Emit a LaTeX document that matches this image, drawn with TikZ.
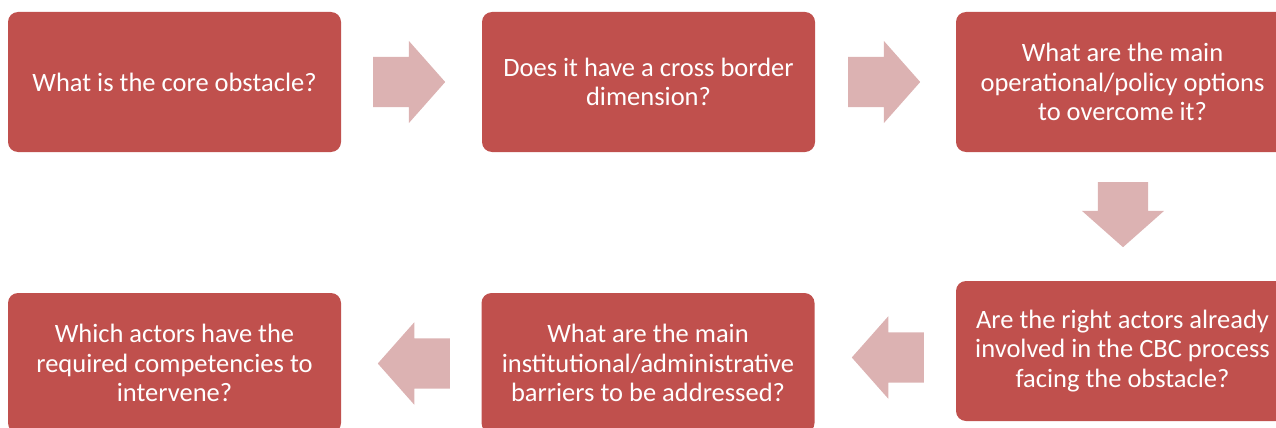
\documentclass[tikz,border=0pt]{standalone}
\usepackage{fontspec}
\setmainfont{Carlito}
\usetikzlibrary{shapes.arrows, positioning}
\definecolor{boxred}{RGB}{192,80,77}
\definecolor{arrowpink}{RGB}{220,178,178}
\tikzset{qbox/.style={rectangle, rounded corners=10pt, fill=boxred, text=white, minimum width=333pt, minimum height=140pt, align=center, font=\fontsize{26.5}{29.5}\selectfont}}
\tikzset{flowarr/.style={single arrow, fill=arrowpink, anchor=tail, inner xsep=0pt, inner ysep=25pt, minimum height=72pt, minimum width=82pt, single arrow head extend=16pt, single arrow tip angle=97}}

\begin{document}
\begin{tikzpicture}[x=1pt, y=-1pt]
    \useasboundingbox (0, 0) rectangle (1276, 428);
    \node[qbox] (core) at (174.5, 82) {What is the core obstacle?};
    \node[qbox] (border) at (648.5, 82) {Does it have a cross border\\dimension?};
    \node[qbox] (options) at (1122.5, 82) {What are the main\\operational/policy options\\to overcome it?};
    \node[qbox] (actors) at (1122.5, 351) {Are the right actors already\\involved in the CBC process\\facing the obstacle?};
    \node[qbox] (barriers) at (648, 363) {What are the main\\institutional/administrative\\barriers to be addressed?};
    \node[qbox] (competences) at (174.5, 363) {Which actors have the\\required competencies to\\intervene?};

    \node[flowarr] (a1) at (373, 82) {};
    \node[flowarr] (a2) at (848, 82) {};
    \node[flowarr, inner xsep=25pt, inner ysep=0pt, minimum height=65pt, shape border rotate=270] (a3) at (1123, 182) {};
    \node[flowarr, shape border rotate=180] (a4) at (924, 357.5) {};
    \node[flowarr, shape border rotate=180] (a5) at (450, 363.5) {};
\end{tikzpicture}
\end{document}
